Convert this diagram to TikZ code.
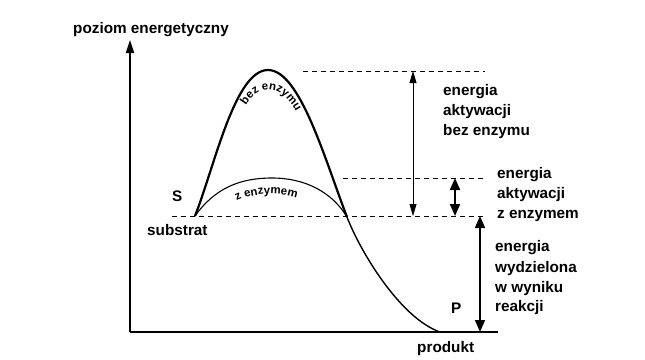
\documentclass[tikz,border=0pt]{standalone}
\usepackage{fontspec}
\setmainfont{Liberation Sans}
\usetikzlibrary{arrows.meta,decorations.text}
\newcommand\curvefont{\bfseries\fontsize{11.5}{13}\selectfont}
\tikzset{
  lbl/.style={font=\bfseries\fontsize{15.3}{18}\selectfont, inner sep=0pt, anchor=base west},
  lvl/.style={dash pattern=on 5pt off 4pt, line width=0.9pt},
  axis/.style={line width=1.8pt},
  gapthin/.style={{Triangle[length=12pt,width=7pt]}-{Triangle[length=12pt,width=7pt]}, line width=0.8pt},
  gapthick/.style={{Triangle[length=12pt,width=10pt]}-{Triangle[length=12pt,width=10pt]}, line width=2pt},
}
\begin{document}
\begin{tikzpicture}[x=1pt,y=-1pt]
\useasboundingbox (0,0) rectangle (645,359);
% axes
\coordinate (origin) at (130,332);
\coordinate (ytop) at (130,40);
\coordinate (xend) at (498,332);
\draw[axis,-{Triangle[length=13pt,width=8pt]}] (origin) -- (ytop);
\draw[axis] (origin) -- (xend);
\node[lbl] (ylabel) at (73,33) {poziom energetyczny};
%
% levels
\coordinate (subL) at (172,216);
\coordinate (subR) at (483,216);
\coordinate (enzL) at (343,178);
\coordinate (enzR) at (483,178);
\coordinate (bezL) at (303,71);
\coordinate (bezR) at (485,71);
\draw[lvl] (subL) -- (subR);
\draw[lvl] (enzL) -- (enzR);
\draw[lvl] (bezL) -- (bezR);
%
% curves
\coordinate (start) at (195,216);
\coordinate (peakA) at (268,70);
\coordinate (peakB) at (272,178);
\coordinate (cross) at (347,217);
\coordinate (prod) at (440,332);
\draw[line width=2.2pt] (start) .. controls (215,165) and (235,70) .. (peakA)
  .. controls (300,70) and (325,160) .. (cross);
\draw[line width=1.4pt] (cross) .. controls (360,251) and (400,318) .. (prod);
\draw[line width=1.1pt] (start) .. controls (215,188) and (240,178) .. (peakB)
  .. controls (305,178) and (332,192) .. (cross);
\path[decorate, decoration={text along path, text align=center,
  text={|\curvefont|bez enzymu}}] (242,114) .. controls (254,82) and (283,79) .. (300,120);
\path[decorate, decoration={text along path, text align=center,
  text={|\curvefont|z enzymem}}] (228,206) .. controls (248,192) and (282,190) .. (306,202);
%
% energy gaps
\coordinate (bezTop) at (413,71);
\coordinate (bezBot) at (413,216);
\coordinate (enzTop) at (455,178);
\coordinate (enzBot) at (455,216);
\coordinate (relTop) at (480,216);
\coordinate (relBot) at (480,332);
\draw[gapthin] (bezTop) -- (bezBot);
\draw[gapthick] (enzTop) -- (enzBot);
\draw[gapthick,line width=1.6pt] (relTop) -- (relBot);
%
\node[lbl] (bez1) at (443,95) {energia};
\node[lbl] (bez2) at (443,115) {aktywacji};
\node[lbl] (bez3) at (443,135) {bez enzymu};
%
\node[lbl] (enz1) at (497,178) {energia};
\node[lbl] (enz2) at (497,198) {aktywacji};
\node[lbl] (enz3) at (497,218) {z enzymem};
%
\node[lbl] (rel1) at (495,251) {energia};
\node[lbl] (rel2) at (495,272) {wydzielona};
\node[lbl] (rel3) at (495,292) {w wyniku};
\node[lbl] (rel4) at (495,311) {reakcji};
%
\node[lbl] (sLetter) at (172,201) {S};
\node[lbl] (substrat) at (147,235) {substrat};
\node[lbl] (pLetter) at (451,313) {P};
\node[lbl] (produkt) at (417,352) {produkt};
\end{tikzpicture}
\end{document}
